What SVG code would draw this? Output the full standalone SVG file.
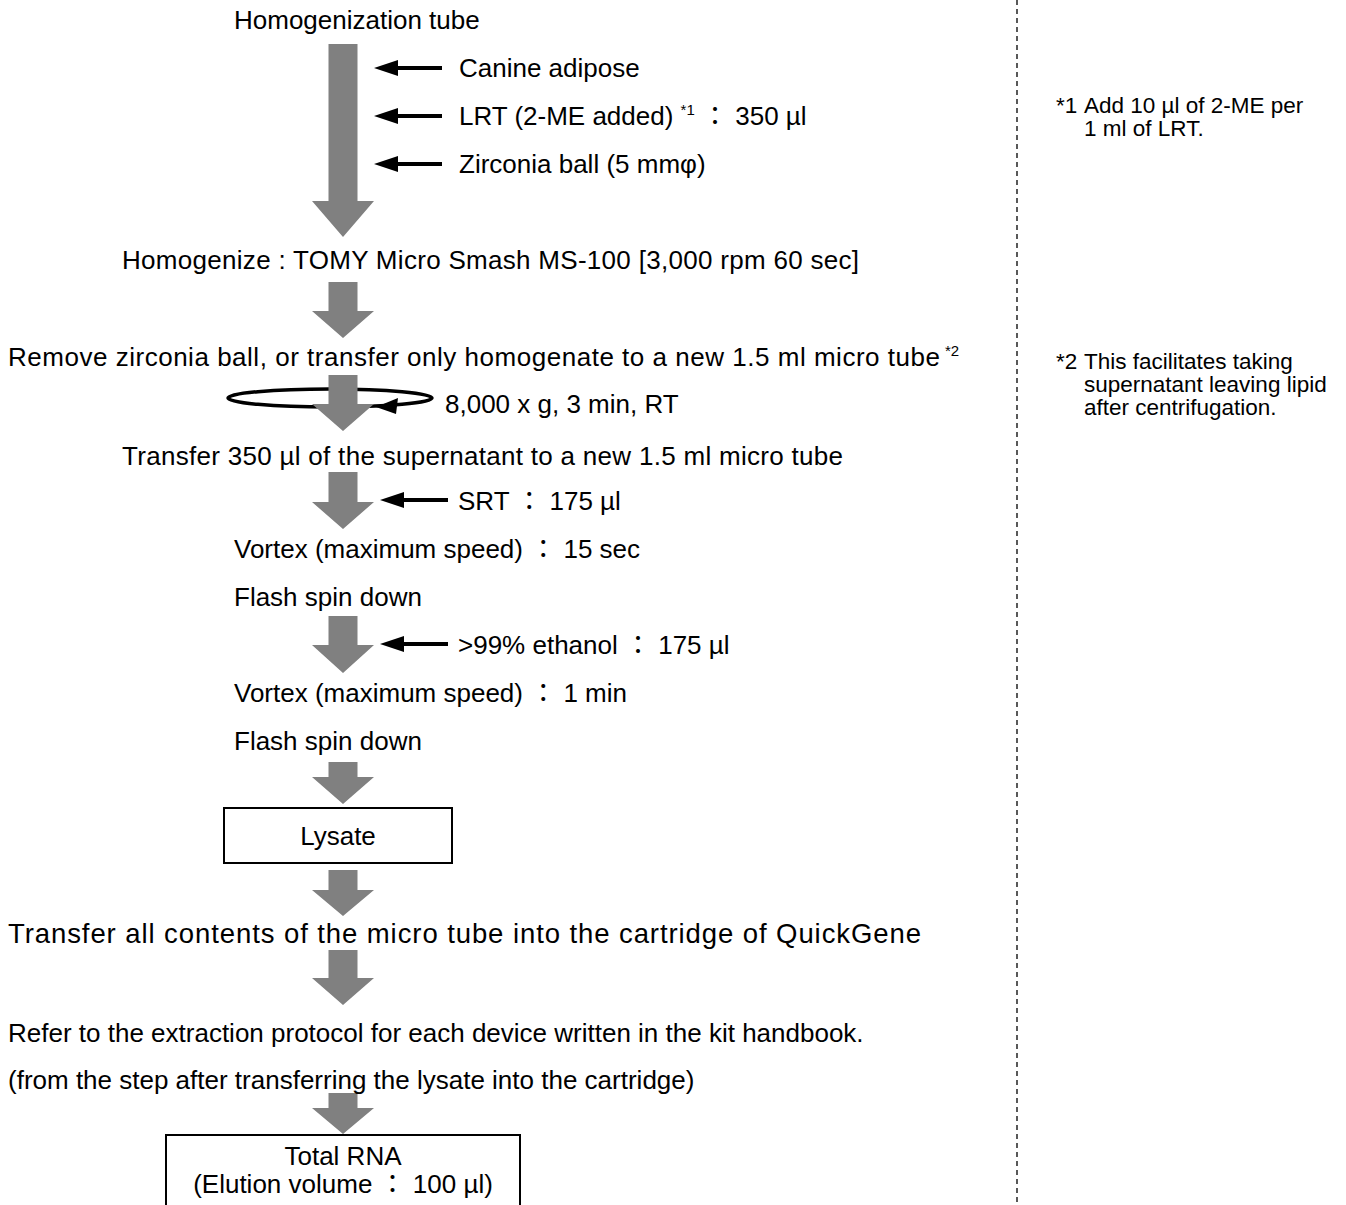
<svg xmlns="http://www.w3.org/2000/svg" width="1346" height="1205" viewBox="0 0 1346 1205">
  <style>
    text { font-family: "Liberation Sans", "Noto Sans CJK JP", sans-serif; fill: #000; }
    .t { font-size: 26px; }
    .n { font-size: 22.5px; }
    .sup { font-size: 15px; }
    .mid { text-anchor: middle; }
    .flow { fill: #808080; }
    .feed { stroke: #000; stroke-width: 4; fill: none; }
    .head { fill: #000; }
    .box { fill: #fff; stroke: #000; stroke-width: 2; }
    .spin { fill: none; stroke: #000; stroke-width: 3.5; }
    .divider { stroke: #000; stroke-width: 1.3; stroke-dasharray: 5 4; fill: none; }
  </style>

  <!-- divider between protocol and footnotes -->
  <line class="divider" x1="1017" y1="0" x2="1017" y2="1205"/>

  <!-- centrifugation symbol (drawn beneath the flow arrow) -->
  <g id="spin">
    <ellipse class="spin" cx="330" cy="398" rx="102" ry="9"/>
    <polygon class="head" points="376,407 398,398 396,414"/>
  </g>

  <!-- connectors: grey flow arrows and black reagent arrows -->
  <g id="connectors">
    <polygon class="flow" points="328.5,44 357.5,44 357.5,201 374,201 343,237 312,201 328.5,201"/>
    <polygon class="flow" points="328.5,282 357.5,282 357.5,311 374,311 343,338 312,311 328.5,311"/>
    <polygon class="flow" points="328.5,375 357.5,375 357.5,404 374,404 343,431 312,404 328.5,404"/>
    <polygon class="flow" points="328.5,472 357.5,472 357.5,502 374,502 343,529 312,502 328.5,502"/>
    <polygon class="flow" points="328.5,616 357.5,616 357.5,645 374,645 343,673 312,645 328.5,645"/>
    <polygon class="flow" points="328.5,762 357.5,762 357.5,777 374,777 343,804 312,777 328.5,777"/>
    <polygon class="flow" points="328.5,870 357.5,870 357.5,890 374,890 343,916 312,890 328.5,890"/>
    <polygon class="flow" points="328.5,950 357.5,950 357.5,978 374,978 343,1005 312,978 328.5,978"/>
    <polygon class="flow" points="328.5,1093 357.5,1093 357.5,1108 374,1108 343,1134 312,1108 328.5,1108"/>

    <line class="feed" x1="394" y1="68" x2="442" y2="68"/>
    <polygon class="head" points="374,68 398,60 398,76"/>
    <line class="feed" x1="394" y1="116" x2="442" y2="116"/>
    <polygon class="head" points="374,116 398,108 398,124"/>
    <line class="feed" x1="394" y1="164" x2="442" y2="164"/>
    <polygon class="head" points="374,164 398,156 398,172"/>
    <line class="feed" x1="400" y1="500" x2="448" y2="500"/>
    <polygon class="head" points="380,500 404,492 404,508"/>
    <line class="feed" x1="400" y1="644" x2="448" y2="644"/>
    <polygon class="head" points="380,644 404,636 404,652"/>
  </g>

  <g id="tube"><text class="t" x="234" y="29">Homogenization tube</text></g>
  <g id="adipose"><text class="t" x="459" y="77">Canine adipose</text></g>
  <g id="lrt"><text class="t" x="459" y="125">LRT (2-ME added) <tspan class="sup" dy="-10">*1</tspan><tspan dy="10"> ： 350 µl</tspan></text></g>
  <g id="ball"><text class="t" x="459" y="173">Zirconia ball (5 mmφ)</text></g>
  <g id="homogenize"><text class="t" x="122" y="269" textLength="737" lengthAdjust="spacing">Homogenize : TOMY Micro Smash MS-100 [3,000 rpm 60 sec]</text></g>
  <g id="remove">
    <text class="t" x="8" y="366" textLength="932" lengthAdjust="spacing">Remove zirconia ball, or transfer only homogenate to a new 1.5 ml micro tube</text>
    <text class="sup" x="945" y="356">*2</text>
  </g>
  <g id="centrifuge"><text class="t" x="445" y="413">8,000 x g, 3 min, RT</text></g>
  <g id="supernatant"><text class="t" x="122" y="465" textLength="721" lengthAdjust="spacing">Transfer 350 µl of the supernatant to a new 1.5 ml micro tube</text></g>
  <g id="srt"><text class="t" x="458" y="510">SRT ： 175 µl</text></g>
  <g id="vortex1"><text class="t" x="234" y="558">Vortex (maximum speed) ： 15 sec</text></g>
  <g id="spin1"><text class="t" x="234" y="606">Flash spin down</text></g>
  <g id="ethanol"><text class="t" x="458" y="654">&gt;99% ethanol ： 175 µl</text></g>
  <g id="vortex2"><text class="t" x="234" y="702">Vortex (maximum speed) ： 1 min</text></g>
  <g id="spin2"><text class="t" x="234" y="750">Flash spin down</text></g>
  <g id="lysate">
    <rect class="box" x="224" y="808" width="228" height="55"/>
    <text class="t mid" x="338" y="845">Lysate</text>
  </g>
  <g id="cartridge"><text x="8" y="943" font-size="27.5" textLength="913" lengthAdjust="spacing">Transfer all contents of the micro tube into the cartridge of QuickGene</text></g>
  <g id="protocol">
    <text class="t" x="8" y="1042">Refer to the extraction protocol for each device written in the kit handbook.</text>
    <text class="t" x="8" y="1089">(from the step after transferring the lysate into the cartridge)</text>
  </g>
  <g id="rna">
    <rect class="box" x="166" y="1135" width="354" height="90"/>
    <text class="t mid" x="343" y="1165">Total RNA</text>
    <text class="t mid" x="343" y="1193">(Elution volume ： 100 µl)</text>
  </g>

  <g id="note1">
    <text class="n" x="1056" y="113">*1</text>
    <text class="n" x="1084" y="113">Add 10 µl of 2-ME per</text>
    <text class="n" x="1084" y="136">1 ml of LRT.</text>
  </g>
  <g id="note2">
    <text class="n" x="1056" y="369">*2</text>
    <text class="n" x="1084" y="369">This facilitates taking</text>
    <text class="n" x="1084" y="392">supernatant leaving lipid</text>
    <text class="n" x="1084" y="415">after centrifugation.</text>
  </g>
</svg>
